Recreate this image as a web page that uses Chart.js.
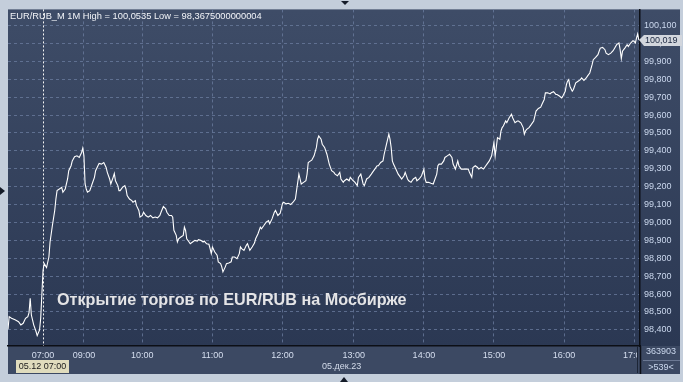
<!DOCTYPE html>
<html>
<head>
<meta charset="utf-8">
<script src="https://cdn.jsdelivr.net/npm/chart.js@4/dist/chart.umd.min.js"></script>
<style>
  html, body { margin: 0; padding: 0; background: #c4cedb; }
  #wrap { width: 683px; height: 382px; }
</style>
</head>
<body>
<div id="wrap"><canvas id="chart" width="683" height="382"></canvas></div>
<script>
// ===== Data (1-minute bars, bar index -> price) =====
var title = 'EUR/RUB_M 1M High = 100,0535 Low = 98,3675000000004';
var note = 'Открытие торгов по EUR/RUB на Мосбирже';
var dateLabel = '05.дек.23';
var cursorLabel = '05.12 07:00';
var volumeLabel = '363903';
var barsLabel = '>539<';

var barIdx = [0,1,3,6,9,11,13,15,17,18,19,20,21,22,24,25,27,28,30,31,33,35,36,37,38,40,41,42,44,46,47,49,51,52,54,55,57,59,61,63,64,65,66,67,68,70,71,72,74,75,77,78,80,82,84,85,87,88,90,91,92,94,95,96,98,100,101,102,104,106,107,109,110,112,113,115,116,118,120,122,124,126,128,130,131,133,135,136,138,140,141,142,144,145,146,148,150,151,152,153,155,156,158,160,162,163,165,167,168,170,172,173,174,175,177,179,180,182,183,184,186,187,189,191,192,194,196,198,199,200,202,204,205,207,209,211,212,214,216,217,219,221,223,224,226,228,229,231,233,235,236,238,240,242,244,246,247,249,250,251,253,255,256,257,259,260,262,264,265,266,268,269,271,273,275,277,279,280,282,284,285,287,288,290,292,293,295,297,299,300,302,304,305,307,309,311,312,314,316,317,319,321,322,324,326,327,328,329,330,332,334,336,337,339,340,342,343,345,347,349,350,352,354,356,357,358,360,362,364,365,367,368,369,371,373,374,376,378,380,381,383,385,386,388,390,392,394,395,397,398,400,402,403,405,407,409,410,412,414,416,417,419,421,422,423,424,426,427,429,431,432,434,436,437,439,441,442,443,444,446,448,450,451,452,454,456,457,459,460,462,464,465,467,469,470,472,474,475,477,478,479,480,481,483,484,486,488,490,491,493,495,496,498,500,501,503,505,506,507,509,511,512,514,516,518,519,521,523,524,525,526,528,530,531,533,535,536,537,538,539,540];

var price = [98.404,98.474,98.465,98.456,98.446,98.428,98.437,98.465,98.474,98.496,98.576,98.483,98.456,98.428,98.391,98.368,98.400,98.465,98.733,98.770,98.748,98.807,98.891,98.937,98.983,99.067,99.131,99.178,99.187,99.196,99.169,99.187,99.243,99.289,99.317,99.344,99.367,99.372,99.363,99.391,99.415,99.372,99.215,99.187,99.169,99.178,99.196,99.215,99.252,99.289,99.317,99.330,99.326,99.335,99.307,99.280,99.243,99.215,99.252,99.274,99.233,99.206,99.178,99.178,99.196,99.206,99.187,99.150,99.131,99.122,99.113,99.122,99.094,99.067,99.030,99.039,99.057,99.039,99.030,99.039,99.026,99.030,99.026,99.039,99.057,99.089,99.076,99.057,99.039,99.039,99.030,98.956,98.928,98.891,98.909,98.919,98.928,98.974,98.956,98.909,98.891,98.881,98.891,98.900,98.896,98.904,98.900,98.891,98.896,98.881,98.878,98.854,98.826,98.863,98.835,98.817,98.780,98.770,98.752,98.724,98.752,98.770,98.774,98.780,98.807,98.807,98.798,98.826,98.863,98.854,98.844,98.872,98.881,98.844,98.863,98.885,98.909,98.937,98.974,98.965,98.983,99.002,99.011,98.993,99.020,99.057,99.067,99.039,99.052,99.107,99.113,99.104,99.107,99.100,99.113,99.131,99.178,99.270,99.243,99.215,99.224,99.233,99.270,99.335,99.344,99.348,99.372,99.419,99.465,99.483,99.465,99.437,99.419,99.381,99.326,99.289,99.280,99.270,99.261,99.280,99.243,99.224,99.233,99.243,99.233,99.252,99.237,99.224,99.206,99.252,99.270,99.215,99.206,99.243,99.252,99.270,99.280,99.298,99.317,99.317,99.335,99.344,99.381,99.437,99.493,99.465,99.419,99.344,99.326,99.298,99.270,99.252,99.243,99.261,99.280,99.243,99.233,99.224,99.243,99.252,99.233,99.243,99.261,99.298,99.243,99.224,99.224,99.219,99.215,99.233,99.270,99.317,99.326,99.326,99.344,99.363,99.372,99.381,99.363,99.326,99.298,99.344,99.317,99.298,99.298,99.298,99.298,99.280,99.252,99.307,99.317,99.307,99.298,99.307,99.298,99.317,99.326,99.344,99.372,99.446,99.370,99.474,99.465,99.511,99.530,99.539,99.567,99.557,99.585,99.604,99.585,99.557,99.567,99.567,99.557,99.530,99.493,99.511,99.520,99.530,99.548,99.567,99.594,99.622,99.637,99.644,99.659,99.687,99.724,99.724,99.718,99.724,99.730,99.715,99.715,99.706,99.696,99.706,99.733,99.770,99.789,99.798,99.761,99.733,99.743,99.780,99.789,99.798,99.807,99.793,99.807,99.817,99.835,99.881,99.909,99.922,99.937,99.956,99.974,99.978,99.965,99.946,99.937,99.946,99.959,99.970,99.993,100.002,99.965,99.915,99.956,99.974,99.993,99.983,100.002,100.015,100.011,100.002,100.030,100.0535,100.019];

// time axis: bar index of each hour label
var tickBars = [30, 65, 115, 175, 235, 296, 356, 416, 476, 536];
var tickLabels = ['07:00', '09:00', '10:00', '11:00', '12:00', '13:00', '14:00', '15:00', '16:00', '17:00'];
var yTicks = [98.4, 98.5, 98.6, 98.7, 98.8, 98.9, 99.0, 99.1, 99.2, 99.3, 99.4, 99.5, 99.6, 99.7, 99.8, 99.9, 100.0, 100.1];
var cursorBar = 30;

var FONT = "'Liberation Sans', Arial, sans-serif";

function fmt3(v) { return v.toFixed(3).replace('.', ','); }

function tri(ctx, pts) {
  ctx.beginPath();
  ctx.moveTo(pts[0], pts[1]);
  ctx.lineTo(pts[2], pts[3]);
  ctx.lineTo(pts[4], pts[5]);
  ctx.closePath();
  ctx.fill();
}

// ===== Background panels =====
var panels = {
  id: 'panels',
  beforeDraw: function(chart) {
    var ctx = chart.ctx, a = chart.chartArea;
    ctx.save();
    ctx.fillStyle = '#c4cedb';
    ctx.fillRect(0, 0, chart.width, chart.height);
    var g = ctx.createLinearGradient(0, a.top, 0, a.bottom);
    g.addColorStop(0, '#3e4c67');
    g.addColorStop(1, '#2b3853');
    ctx.fillStyle = g;
    ctx.fillRect(a.left, a.top, 680 - a.left, a.bottom - a.top);
    ctx.fillStyle = '#3c4963';
    ctx.fillRect(a.left, a.bottom, 680 - a.left, 374 - a.bottom);
    ctx.restore();
  }
};

// ===== Overlays: cursor, texts, badges =====
var overlays = {
  id: 'overlays',
  afterDraw: function(chart) {
    var ctx = chart.ctx, a = chart.chartArea;
    var xs = chart.scales.x, ys = chart.scales.y;
    ctx.save();

    // cursor line
    var cx = Math.round(xs.getPixelForValue(cursorBar)) + 0.5;
    ctx.strokeStyle = '#f4f4f4';
    ctx.lineWidth = 1;
    ctx.setLineDash([2, 2]);
    ctx.beginPath();
    ctx.moveTo(cx, a.top);
    ctx.lineTo(cx, a.bottom);
    ctx.stroke();
    ctx.setLineDash([]);

    // header
    ctx.fillStyle = '#f2f4f8';
    ctx.font = '9.3px ' + FONT;
    ctx.textBaseline = 'alphabetic';
    ctx.textAlign = 'left';
    ctx.fillText(title, 10, 19);

    // annotation
    ctx.fillStyle = '#e4e4e6';
    ctx.font = 'bold 16.2px ' + FONT;
    ctx.fillText(note, 57, 305);

    // right-bottom cell (hides the clipped end of the last time label)
    ctx.fillStyle = '#3c4963';
    ctx.fillRect(638, a.bottom + 1, 42, 373 - a.bottom - 1);

    // bottom panel separators
    ctx.strokeStyle = '#1c2536';
    ctx.lineWidth = 1;
    ctx.beginPath();
    ctx.moveTo(637.5, a.bottom);
    ctx.lineTo(637.5, 373);
    ctx.stroke();
    ctx.strokeStyle = '#0c0f16';
    ctx.lineWidth = 1.5;
    ctx.beginPath();
    ctx.moveTo(640.5, a.bottom);
    ctx.lineTo(640.5, 374);
    ctx.stroke();
    ctx.strokeStyle = '#6b7893';
    ctx.lineWidth = 1;
    ctx.beginPath();
    ctx.moveTo(643, 360.5);
    ctx.lineTo(680, 360.5);
    ctx.stroke();

    // volume / bar count
    ctx.font = '9px ' + FONT;
    ctx.fillStyle = '#cbd8ee';
    ctx.textAlign = 'center';
    ctx.textBaseline = 'middle';
    ctx.fillText(volumeLabel, 661, 352);
    ctx.fillText(barsLabel, 661, 368);

    // date
    ctx.fillStyle = '#d3dbea';
    ctx.textAlign = 'left';
    ctx.fillText(dateLabel, 322, 367);

    // cursor date badge
    ctx.fillStyle = '#e0dcbd';
    ctx.fillRect(16, 360, 53, 13);
    ctx.fillStyle = '#1b1b1b';
    ctx.textAlign = 'center';
    ctx.fillText(cursorLabel, 42.5, 367);

    // last price badge
    var last = price[price.length - 1];
    var py = ys.getPixelForValue(last);
    ctx.fillStyle = '#d2d6dd';
    ctx.beginPath();
    ctx.moveTo(639, py);
    ctx.lineTo(644, py - 5);
    ctx.lineTo(682, py - 5);
    ctx.lineTo(682, py + 6);
    ctx.lineTo(644, py + 6);
    ctx.closePath();
    ctx.fill();
    ctx.fillStyle = '#1b2740';
    ctx.textAlign = 'left';
    ctx.fillText(fmt3(last), 645, py + 0.5);

    // frame markers
    ctx.fillStyle = '#141b28';
    tri(ctx, [341, 1, 349, 1, 345, 5]);
    tri(ctx, [340, 382, 348, 382, 344, 377]);
    tri(ctx, [0, 187, 0, 195, 5, 191]);

    ctx.restore();
  }
};

var points = barIdx.map(function(b, i) { return { x: b, y: price[i] }; });

new Chart(document.getElementById('chart'), {
  type: 'line',
  data: {
    datasets: [{
      data: points,
      borderColor: '#ffffff',
      borderWidth: 1.1,
      pointRadius: 0,
      tension: 0,
      fill: false
    }]
  },
  options: {
    responsive: false,
    animation: false,
    layout: { padding: { left: 8, top: 8, right: 0, bottom: 0 } },
    plugins: { legend: { display: false }, tooltip: { enabled: false } },
    scales: {
      x: {
        type: 'linear',
        min: 0,
        max: 541,
        afterBuildTicks: function(s) { s.ticks = tickBars.map(function(v) { return { value: v }; }); },
        afterFit: function(s) { s.height = 36; },
        ticks: {
          autoSkip: false,
          maxRotation: 0,
          padding: 4,
          color: '#d6dff0',
          font: { family: FONT, size: 9 },
          callback: function(v, i) { return tickLabels[i]; }
        },
        grid: {
          drawTicks: false,
          color: function(c) { return c.index === 0 ? 'rgba(0,0,0,0)' : 'rgba(108,126,160,0.75)'; }
        },
        border: { color: '#0c0f16', width: 1.5, dash: [3, 3] }
      },
      y: {
        position: 'right',
        min: 98.31,
        max: 100.19,
        afterBuildTicks: function(s) { s.ticks = yTicks.map(function(v) { return { value: v }; }); },
        afterFit: function(s) { s.width = 43; },
        ticks: {
          padding: 4,
          color: '#cbd8ee',
          font: { family: FONT, size: 9 },
          callback: function(v) { return fmt3(v); }
        },
        grid: { drawTicks: false, color: 'rgba(108,126,160,0.75)' },
        border: { color: '#0c0f16', width: 1.5, dash: [3, 3] }
      }
    }
  },
  plugins: [panels, overlays]
});
</script>
</body>
</html>
